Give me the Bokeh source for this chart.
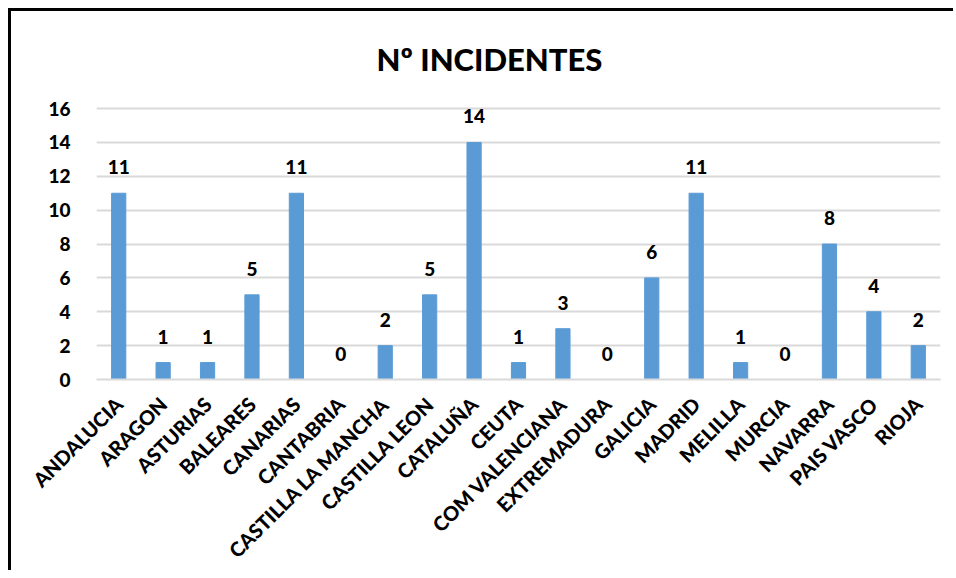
import math
from bokeh.plotting import figure
from bokeh.models import ColumnDataSource, Range1d, FixedTicker
from bokeh.core.properties import value
from bokeh.embed import file_html
from bokeh.resources import INLINE

categories = ["ANDALUCIA", "ARAGON", "ASTURIAS", "BALEARES", "CANARIAS", "CANTABRIA",
              "CASTILLA LA MANCHA", "CASTILLA LEON", "CATALUÑA", "CEUTA", "COM VALENCIANA",
              "EXTREMADURA", "GALICIA", "MADRID", "MELILLA", "MURCIA", "NAVARRA",
              "PAIS VASCO", "RIOJA"]
incidentes = [11, 1, 1, 5, 11, 0, 2, 5, 14, 1, 3, 0, 6, 11, 1, 0, 8, 4, 2]
y_ticks = [0, 2, 4, 6, 8, 10, 12, 14, 16]
title_text = "Nº INCIDENTES"

FONT = "Lato Black"

source = ColumnDataSource(dict(cat=categories, val=incidentes,
                               lbl=[str(v) for v in incidentes]))

p = figure(x_range=categories, y_range=Range1d(0, 16.3),
           width=945, height=562, output_backend="svg", toolbar_location=None,
           min_border_left=85, min_border_right=16, min_border_top=92,
           min_border_bottom=193)
p.styles = {"border-left": "3px solid black", "border-top": "3px solid black",
            "margin-left": "8px", "margin-top": "8px"}

p.title.text = title_text
p.title.align = "left"
p.title.offset = 280
p.title.text_font = FONT
p.title.text_font_size = "31px"
p.title.text_font_style = "normal"
p.title.text_color = "black"
p.title.standoff = 51

p.vbar(x="cat", top="val", width=0.32, source=source, color="#5B9BD5")
p.text(x="cat", y="val", text="lbl", source=source, y_offset=-26,
       text_align="center", text_baseline="middle",
       text_font=value(FONT), text_font_size="19px",
       text_color="black")

p.outline_line_color = None
p.background_fill_color = "white"
p.border_fill_color = "white"

p.xgrid.grid_line_color = None
p.ygrid.grid_line_color = "#d9d9d9"
p.ygrid.grid_line_width = 2
p.yaxis.ticker = FixedTicker(ticks=y_ticks)

for ax in (p.xaxis, p.yaxis):
    ax.major_tick_line_color = None
    ax.minor_tick_line_color = None
    ax.major_label_text_font = FONT
    ax.major_label_text_color = "black"

p.yaxis.axis_line_color = None
p.yaxis.major_label_text_font_size = "19px"
p.yaxis.major_label_standoff = 20
p.xaxis.axis_line_color = "#d9d9d9"
p.xaxis.axis_line_width = 2
p.xaxis.major_label_text_font_size = "20px"
p.xaxis.major_label_orientation = math.pi / 4
p.xaxis.major_label_standoff = 15
p.x_range.range_padding = 0

open("out.html", "w").write(file_html(p, INLINE))
